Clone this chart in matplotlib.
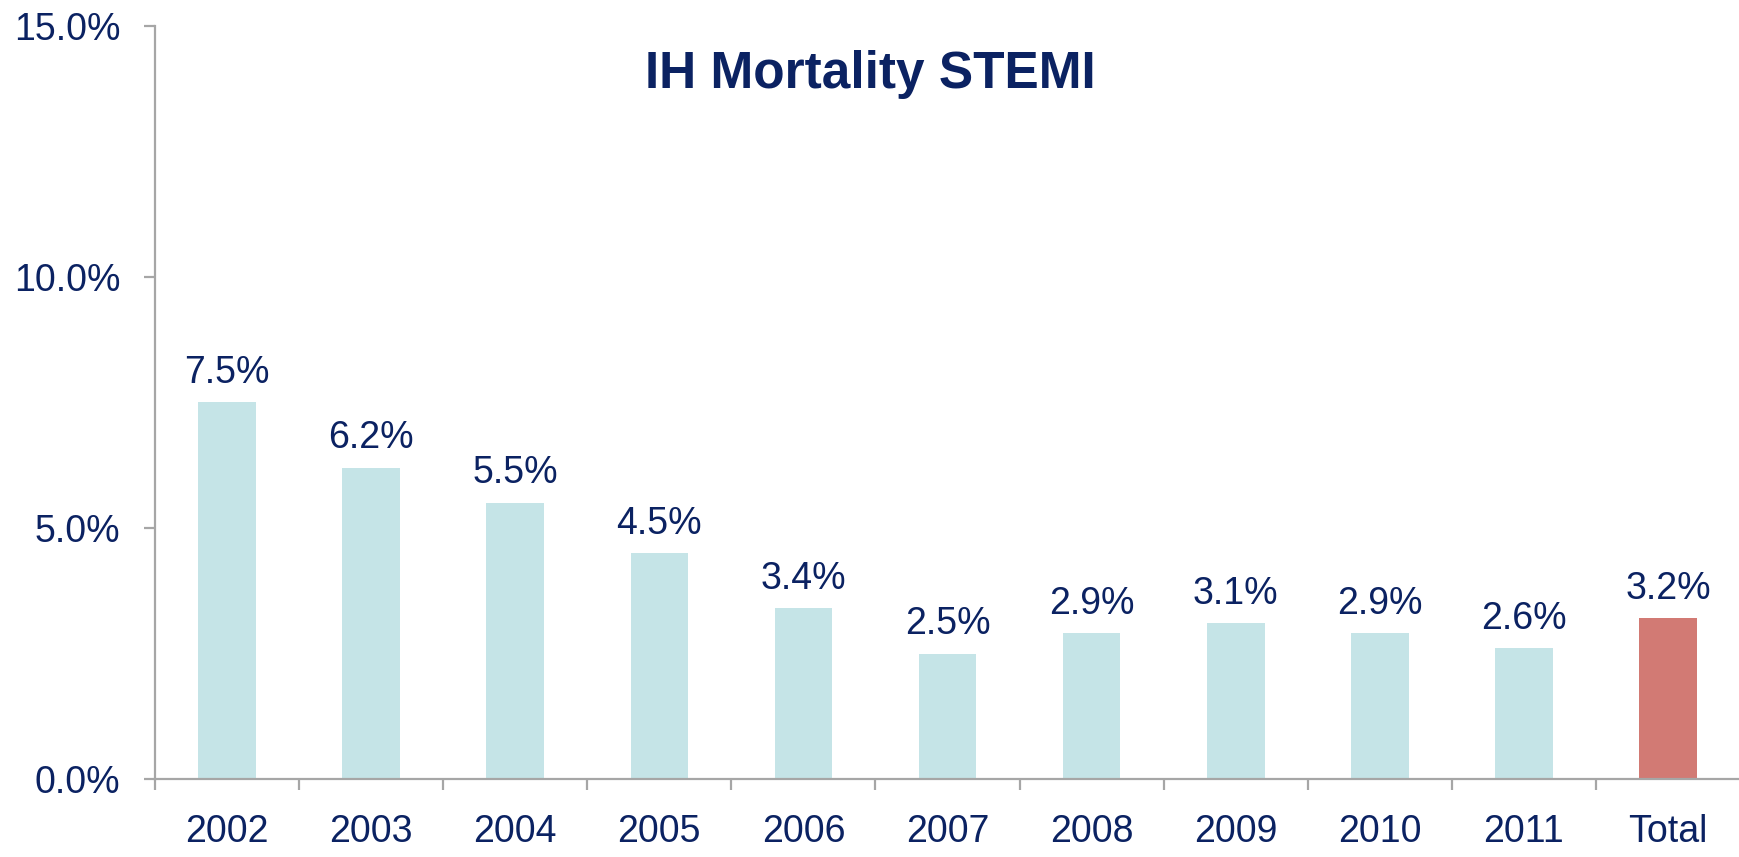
import matplotlib.pyplot as plt
import numpy as np
from matplotlib.ticker import FixedLocator, PercentFormatter

categories = ["2002", "2003", "2004", "2005", "2006", "2007", "2008", "2009", "2010", "2011", "Total"]
mortality = [7.5, 6.2, 5.5, 4.5, 3.4, 2.5, 2.9, 3.1, 2.9, 2.6, 3.2]

NAVY = "#0B2262"
TEAL = "#C5E4E7"
RED = "#D27A74"
GREY = "#A6A6A6"

plt.rcParams["font.family"] = ["Liberation Sans", "DejaVu Sans"]


def main():
    fig = plt.figure(figsize=(17.4, 8.57), dpi=100)
    ax = fig.add_axes([0.0891, 0.091, 0.9109, 0.8787])

    x = np.arange(len(categories))
    colors = [TEAL] * (len(categories) - 1) + [RED]
    ax.bar(x, mortality, width=0.4, color=colors)

    for xi, v in zip(x, mortality):
        ax.annotate(f"{v:.1f}%", (xi, v), xytext=(0, 14), textcoords="offset points",
                    ha="center", va="baseline", fontsize=27, color=NAVY)

    ax.set_xlim(-0.5, len(categories) - 0.5)
    ax.set_ylim(0, 15)
    ax.set_yticks([0, 5, 10, 15])
    ax.yaxis.set_major_formatter(PercentFormatter(decimals=1))

    # category boundaries carry the tick marks, labels sit at the centres
    ax.xaxis.set_major_locator(FixedLocator(np.arange(-0.5, len(categories) - 0.5, 1.0)))
    ax.xaxis.set_major_formatter(plt.NullFormatter())
    ax.set_xticks(x, categories, minor=True)

    ax.tick_params(axis="x", which="major", direction="out", length=8, width=1.6, color=GREY)
    ax.tick_params(axis="x", which="minor", length=0, pad=25, labelsize=27, labelcolor=NAVY)
    ax.tick_params(axis="y", direction="out", length=8, width=1.6, color=GREY,
                   pad=17, labelsize=27, labelcolor=NAVY)

    for side in ["top", "right"]:
        ax.spines[side].set_visible(False)
    for side in ["left", "bottom"]:
        ax.spines[side].set_color(GREY)
        ax.spines[side].set_linewidth(1.6)

    fig.text(0.5, 0.9125, "IH Mortality STEMI", ha="center", va="center",
             fontsize=37, fontweight="bold", color=NAVY)

    fig.savefig("out.png", dpi=100)
    plt.close(fig)


if __name__ == "__main__":
    main()
